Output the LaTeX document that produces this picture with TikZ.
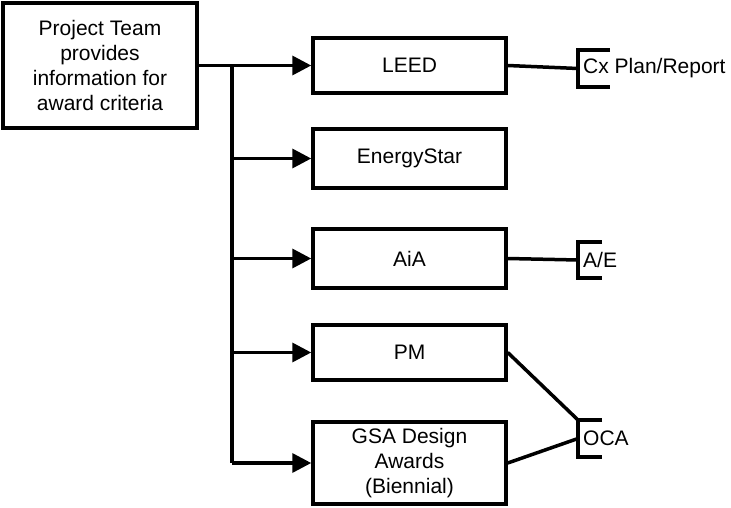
\documentclass[tikz,border=0pt]{standalone}
\usepackage{fontspec}
\setmainfont{Liberation Sans}
\usetikzlibrary{arrows.meta}
\begin{document}
\begin{tikzpicture}[x=1pt,y=-1pt,
  every node/.style={font=\fontsize{21}{25}\selectfont},
  box/.style={draw,line width=3.5pt,minimum width=193pt,inner sep=0pt,align=center,line join=miter},
  ln/.style={line width=3.5pt},
  arr/.style={line width=3.5pt,-{Triangle[length=19pt,width=19pt]}},
  brk/.style={line width=3.5pt,line join=miter}]
\useasboundingbox (0,0) rectangle (731,508);
\node[box,minimum width=194pt,minimum height=125pt] (src) at (100,65.5) {Project Team\\provides\\information for\\award criteria};
\node[box,minimum height=55pt] (leed) at (409.5,65.5) {LEED};
\node[box,minimum height=59pt] (es) at (409.5,158.5) {EnergyStar};
\node[box,minimum height=59pt] (aia) at (409.5,258.5) {AiA};
\node[box,minimum height=55pt] (pm) at (409.5,352.5) {PM};
\node[box,minimum height=82pt] (gsa) at (409.5,463) {GSA Design\\Awards\\(Biennial)};
% trunk
\coordinate (t1) at (232,65.5);
\coordinate (t2) at (232,158.5);
\coordinate (t3) at (232,258.5);
\coordinate (t4) at (232,352.5);
\coordinate (t5) at (232,463);
\draw[arr] (src.east) -- (leed.west);
\draw[ln] (t1) -- (t5);
\draw[arr] (t2) -- (es.west);
\draw[arr] (t3) -- (aia.west);
\draw[arr] (t4) -- (pm.west);
\draw[arr] (t5) -- (gsa.west);
% brackets
\coordinate (cx) at (578,68.5);
\coordinate (ae) at (578,260);
\coordinate (oca) at (578,438.5);
\coordinate (ocatop) at (578,420);
\draw[brk] (610,50) -- (578,50) -- (578,87) -- (610,87);
\draw[brk] (602,242) -- (578,242) -- (578,278) -- (602,278);
\draw[brk] (602,420) -- (578,420) -- (578,457) -- (602,457);
\node[anchor=base west,inner sep=0pt] (cxl) at (583,74) {Cx Plan/Report};
\node[anchor=base west,inner sep=0pt] (ael) at (583,267) {A/E};
\node[anchor=base west,inner sep=0pt] (ocal) at (583,445) {OCA};
\draw[ln] (leed.east) -- (cx);
\draw[ln] (aia.east) -- (ae);
\draw[ln] (pm.east) -- (ocatop);
\draw[ln] (gsa.east) -- (oca);
\end{tikzpicture}
\end{document}
